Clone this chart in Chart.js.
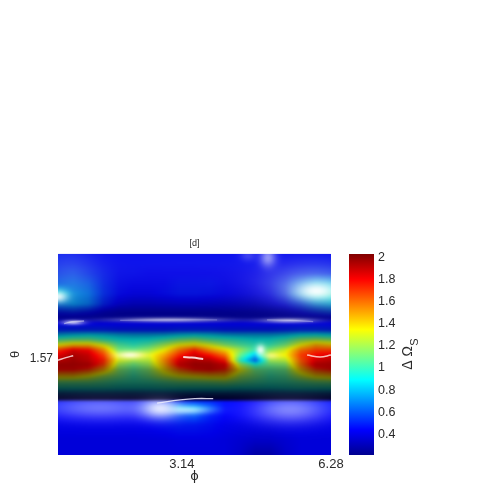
<!DOCTYPE html>
<html>
<head>
<meta charset="utf-8">
<style>
  html, body { margin: 0; background: #fff; }
  canvas { position: absolute; left: 0; top: 0; }
</style>
<script src="https://cdn.jsdelivr.net/npm/chart.js@4"></script>
</head>
<body>
<canvas id="surface" width="485" height="485"></canvas>
<canvas id="colorbar" width="485" height="485"></canvas>
<script>
const phiTicks = [3.14, 6.28];
const thetaTicks = [1.57];
const barTicks = [0.4, 0.6, 0.8, 1, 1.2, 1.4, 1.6, 1.8, 2];
const barRange = [0.21, 2.036];

const jetStops = [0, 0.125, 0.375, 0.625, 0.875, 1];
const jetColours = [[0, 0, 143], [0, 0, 255], [0, 255, 255], [255, 255, 0], [255, 0, 0], [128, 0, 0]];

const phiLevels = [0, 0.35, 0.7, 1.05, 1.4, 1.74, 2.09, 2.44, 2.79, 3.14, 3.49, 3.84, 4.19, 4.54, 4.88, 5.23, 5.58, 5.93, 6.28];
const thetaLevels = [0, 0.16, 0.31, 0.47, 0.62, 0.78, 0.91, 1.0, 1.09, 1.19, 1.27, 1.34, 1.42, 1.5, 1.58, 1.66, 1.73, 1.81, 1.91, 2.0, 2.09, 2.19, 2.27, 2.31, 2.41, 2.52, 2.67, 2.91, 3.14];
const rowShade = [0.93, 0.92, 0.9, 0.88, 0.85, 0.76, 0.62, 0.6, 0.85, 0.7, 0.62, 0.68, 0.78, 0.9, 0.96, 0.88, 0.75, 0.58, 0.48, 0.4, 0.3, 0.2, 0.16, 1, 1, 0.98, 0.92, 0.88, 0.88];
const heatValues = [
  [.48,.47,.46,.45,.45,.45,.45,.45,.45,.45,.45,.45,.45,.45,.45,.45,.45,.45,.45],
  [.5,.5,.48,.46,.45,.45,.45,.45,.45,.45,.45,.45,.45,.45,.45,.45,.46,.47,.47],
  [.54,.56,.52,.48,.45,.45,.44,.44,.44,.44,.44,.44,.44,.44,.45,.47,.5,.52,.52],
  [.62,.64,.6,.5,.45,.44,.44,.44,.46,.46,.46,.44,.44,.44,.46,.52,.66,.8,.8],
  [.9,.72,.66,.52,.45,.43,.43,.45,.47,.47,.46,.44,.43,.43,.45,.52,.72,.92,.95],
  [.68,.72,.66,.5,.42,.39,.39,.4,.41,.41,.4,.39,.39,.39,.42,.46,.55,.7,.78],
  [.48,.5,.46,.4,.37,.37,.37,.37,.37,.37,.37,.37,.37,.37,.38,.4,.44,.5,.56],
  [.38,.38,.38,.38,.38,.38,.38,.38,.38,.38,.38,.38,.38,.38,.38,.38,.38,.38,.38],
  [.44,.44,.44,.44,.44,.44,.44,.44,.44,.44,.44,.44,.44,.44,.44,.44,.44,.44,.44],
  [.5,.5,.5,.5,.48,.48,.48,.48,.5,.5,.5,.48,.48,.48,.48,.5,.52,.52,.5],
  [.8,.85,.88,.85,.8,.78,.78,.8,.85,.88,.85,.8,.78,.78,.78,.82,.9,.92,.88],
  [1.05,1.1,1.1,1,.92,.9,.92,1,1.1,1.15,1.05,1,.95,.9,.92,1,1.15,1.2,1.15],
  [1.35,1.45,1.45,1.3,1.05,.98,1.05,1.2,1.35,1.4,1.3,1.15,1.05,.98,1,1.12,1.35,1.5,1.45],
  [1.7,1.85,1.8,1.55,1.12,1.1,1.18,1.35,1.6,1.75,1.55,1.4,1.2,1,1.15,1.3,1.6,1.7,1.7],
  [1.85,1.95,1.9,1.7,1.3,1.35,1.32,1.5,1.75,1.88,1.78,1.6,1.1,.8,1.34,1.36,1.7,1.8,1.85],
  [1.9,1.95,1.9,1.75,1.3,1.22,1.25,1.55,1.85,1.92,1.9,1.75,.98,.62,1.2,1.25,1.65,1.85,1.9],
  [1.92,1.92,1.9,1.7,1.2,1.1,1.2,1.5,1.85,1.92,1.92,1.85,1.22,.95,1.1,1.15,1.6,1.88,1.9],
  [1.8,1.8,1.72,1.5,1.15,1.05,1.15,1.4,1.65,1.78,1.82,1.75,1.35,1.1,1.05,1.1,1.45,1.7,1.78],
  [1.45,1.45,1.35,1.2,1.1,1,1.1,1.25,1.35,1.4,1.45,1.45,1.2,1.1,1,1.05,1.25,1.4,1.45],
  [1.1,1.1,1.1,1.05,1,.98,1,1.05,1.1,1.1,1.12,1.15,1.08,1.02,.98,1,1.05,1.1,1.12],
  [.95,.95,.95,.95,.92,.92,.92,.95,.95,.95,.95,.95,.92,.92,.9,.92,.95,.95,.95],
  [.6,.6,.6,.6,.6,.6,.6,.6,.6,.6,.6,.6,.6,.6,.6,.6,.6,.6,.6],
  [.4,.4,.4,.4,.4,.4,.4,.4,.4,.4,.4,.4,.4,.4,.4,.4,.4,.4,.4],
  [.46,.46,.46,.46,.46,.46,.48,.5,.52,.54,.52,.46,.44,.44,.46,.46,.46,.46,.46],
  [.46,.46,.46,.46,.46,.46,.5,.55,.78,.78,.62,.46,.44,.44,.46,.46,.46,.46,.46],
  [.44,.44,.44,.44,.44,.44,.46,.5,.56,.6,.5,.44,.44,.44,.44,.44,.44,.44,.44],
  [.43,.43,.43,.43,.43,.43,.44,.46,.48,.48,.46,.43,.42,.42,.42,.43,.43,.43,.43],
  [.42,.42,.42,.42,.42,.42,.42,.42,.43,.43,.43,.42,.4,.38,.38,.4,.42,.42,.42],
  [.42,.42,.42,.42,.42,.42,.42,.42,.42,.42,.42,.42,.38,.3,.3,.38,.42,.42,.42],
];

// pale highlights on the surface, the last three are the thin upper streaks
const glowPhi = [0, 0.28, 5.95, 5.8, 4.83, 4.37, 2.35, 0.97, 5.34, 2.99, 1.66, 4.9, 4.66, 3.14, 2.55, 5.3, 0.35];
const glowTheta = [0.67, 0.28, 0.58, 0.48, 0.06, 0.03, 2.41, 2.4, 2.43, 2.44, 1.58, 1.59, 1.5, 0.2, 1.03, 1.04, 1.07];
const glowWidth = [0.22, 0.7, 0.5, 1.15, 0.18, 0.18, 0.45, 1.3, 0.9, 0.5, 0.32, 0.2, 0.1, 5, 1.2, 0.6, 0.25];
const glowHeight = [0.09, 0.4, 0.14, 0.34, 0.14, 0.08, 0.16, 0.19, 0.21, 0.06, 0.055, 0.05, 0.08, 0.4, 0.03, 0.03, 0.03];
const glowStrength = [0.9, 0.14, 0.95, 0.34, 0.55, 0.2, 0.85, 0.42, 0.5, 0.6, 0.85, 0.45, 0.9, 0.06, 0.85, 0.85, 0.9];

const streakLeft = [{ x: 0.14, y: 1.09 }, { x: 0.32, y: 1.06 }, { x: 0.6, y: 1.05 }];
const streakMiddle = [{ x: 1.43, y: 1.04 }, { x: 2.58, y: 1.03 }, { x: 3.66, y: 1.03 }];
const streakRight = [{ x: 4.81, y: 1.03 }, { x: 5.34, y: 1.04 }, { x: 5.87, y: 1.06 }];
const streakLower = [{ x: 2.28, y: 2.33 }, { x: 2.81, y: 2.28 }, { x: 3.15, y: 2.26 }, { x: 3.57, y: 2.26 }];
const streakHotLeft = [{ x: 0, y: 1.66 }, { x: 0.18, y: 1.62 }, { x: 0.35, y: 1.59 }];
const streakHotMiddle = [{ x: 2.88, y: 1.61 }, { x: 3.08, y: 1.62 }, { x: 3.34, y: 1.64 }];
const streakHotRight = [{ x: 5.73, y: 1.58 }, { x: 6.03, y: 1.61 }, { x: 6.28, y: 1.58 }];

const FONT = "'Liberation Sans', Arial, sans-serif";
const TEXT_COLOUR = "#2a2a2a";

function jetColour(value) {
  let t = (value - barRange[0]) / (barRange[1] - barRange[0]);
  t = Math.min(1, Math.max(0, t));
  let i = 0;
  while (i < jetStops.length - 2 && t > jetStops[i + 1]) i++;
  const f = (t - jetStops[i]) / (jetStops[i + 1] - jetStops[i]);
  return jetColours[i].map((c, k) => c + (jetColours[i + 1][k] - c) * f);
}

// position of v inside a sorted list, as index + fraction
function locate(levels, v) {
  let i = 0;
  while (i < levels.length - 2 && v > levels[i + 1]) i++;
  return [i, Math.min(1, Math.max(0, (v - levels[i]) / (levels[i + 1] - levels[i])))];
}

const surfacePlugin = {
  id: "surface",
  beforeDatasetsDraw(chart) {
    const { ctx, chartArea, scales } = chart;
    const w = Math.round(chartArea.right - chartArea.left);
    const h = Math.round(chartArea.bottom - chartArea.top);
    const off = document.createElement("canvas");
    off.width = w;
    off.height = h;
    const offCtx = off.getContext("2d");
    const img = offCtx.createImageData(w, h);
    for (let py = 0; py < h; py++) {
      const theta = scales.y.getValueForPixel(chartArea.top + py + 0.5);
      const [r, fr] = locate(thetaLevels, theta);
      const shade = rowShade[r] + (rowShade[r + 1] - rowShade[r]) * fr;
      for (let px = 0; px < w; px++) {
        const phi = scales.x.getValueForPixel(chartArea.left + px + 0.5);
        const [c, fc] = locate(phiLevels, phi);
        const top = heatValues[r][c] + (heatValues[r][c + 1] - heatValues[r][c]) * fc;
        const bottom = heatValues[r + 1][c] + (heatValues[r + 1][c + 1] - heatValues[r + 1][c]) * fc;
        const rgb = jetColour(top + (bottom - top) * fr);
        let keep = 1;
        glowPhi.forEach((g, i) => {
          const dx = (phi - g) / glowWidth[i];
          const dy = (theta - glowTheta[i]) / glowHeight[i];
          keep *= 1 - glowStrength[i] * Math.exp(-dx * dx - dy * dy);
        });
        const white = (1 - keep) * Math.min(1, shade + 0.2);
        const o = (py * w + px) * 4;
        for (let k = 0; k < 3; k++) {
          img.data[o + k] = rgb[k] * shade * (1 - white) + 255 * white;
        }
        img.data[o + 3] = 255;
      }
    }
    offCtx.putImageData(img, 0, 0);
    ctx.drawImage(off, chartArea.left, chartArea.top);
    ctx.save();
    ctx.beginPath();
    ctx.rect(chartArea.left, chartArea.top, w, h);
    ctx.clip();
    ctx.filter = "blur(1px)";
    ctx.drawImage(off, chartArea.left, chartArea.top);
    ctx.restore();
    // the streaks are soft too
    ctx.filter = "blur(0.7px)";
  },
  afterDatasetsDraw(chart) {
    chart.ctx.filter = "none";
  },
};

function streak(points, colour, width) {
  return {
    data: points,
    showLine: true,
    borderColor: colour,
    borderWidth: width,
    pointRadius: 0,
    tension: 0.4,
  };
}

new Chart(document.getElementById("surface"), {
  type: "scatter",
  data: {
    datasets: [
      streak(streakLeft, "rgba(255,255,255,0.4)", 1.5),
      streak(streakMiddle, "rgba(205,205,255,0.3)", 1.2),
      streak(streakRight, "rgba(225,225,255,0.35)", 1.2),
      streak(streakLower, "rgba(240,240,255,0.85)", 1.3),
      streak(streakHotLeft, "rgba(255,225,225,0.85)", 1.5),
      streak(streakHotMiddle, "rgba(255,235,235,0.9)", 2),
      streak(streakHotRight, "rgba(255,225,215,0.85)", 1.5),
    ],
  },
  options: {
    responsive: false,
    animation: false,
    events: [],
    layout: { padding: { top: 236, right: 154, left: 0, bottom: 0 } },
    plugins: {
      legend: { display: false },
      tooltip: { enabled: false },
      title: {
        display: true,
        fullSize: false,
        text: "[d]",
        color: TEXT_COLOUR,
        font: { family: FONT, size: 9, weight: "normal" },
        padding: { top: 2, bottom: 5 },
      },
    },
    scales: {
      x: {
        type: "linear",
        min: 0,
        max: 6.28,
        afterBuildTicks: (s) => { s.ticks = phiTicks.map((v) => ({ value: v })); },
        afterFit: (s) => { s.height = 30; },
        grid: { display: false, drawTicks: false },
        border: { display: false },
        ticks: {
          color: TEXT_COLOUR,
          font: { family: FONT, size: 13 },
          padding: 2,
          maxRotation: 0,
          autoSkip: false,
          // the 3.14 label sits left of its tick in the reference
          callback: (v) => (v === 3.14 ? "3.14\u00a0\u00a0\u00a0\u00a0\u00a0\u00a0\u00a0" : String(v)),
        },
        title: {
          display: true,
          text: "ϕ",
          color: TEXT_COLOUR,
          font: { family: "'DejaVu Sans'", size: 13 },
          padding: { top: 0, bottom: 1 },
        },
      },
      y: {
        type: "linear",
        reverse: true,
        min: 0,
        max: 3.14,
        afterBuildTicks: (s) => { s.ticks = thetaTicks.map((v) => ({ value: v })); },
        afterFit: (s) => { s.width = 58; },
        grid: { display: false, drawTicks: false },
        border: { display: false },
        ticks: {
          color: TEXT_COLOUR,
          font: { family: FONT, size: 12 },
          padding: 5,
          labelOffset: 4,
          autoSkip: false,
          callback: (v) => String(v),
        },
        title: {
          display: true,
          text: "θ",
          color: TEXT_COLOUR,
          font: { family: FONT, size: 13 },
          padding: { top: 8, bottom: 0 },
        },
      },
    },
  },
  plugins: [surfacePlugin],
});

const barTitlePlugin = {
  id: "barTitle",
  afterDraw(chart) {
    const { ctx } = chart;
    ctx.save();
    ctx.translate(412, 358);
    ctx.rotate(-Math.PI / 2);
    ctx.fillStyle = TEXT_COLOUR;
    ctx.font = "14px " + FONT;
    ctx.textAlign = "center";
    ctx.fillText("Δ Ω", 0, 0);
    ctx.font = "11px " + FONT;
    ctx.fillText("S", 16, 6);
    ctx.restore();
  },
};

function jetColourCss(c) {
  return "rgb(" + c.join(",") + ")";
}

function barGradient(context) {
  const { ctx, chartArea } = context.chart;
  if (!chartArea) return jetColourCss(jetColours[0]);
  const g = ctx.createLinearGradient(0, chartArea.bottom, 0, chartArea.top);
  jetStops.forEach((s, i) => g.addColorStop(s, jetColourCss(jetColours[i])));
  return g;
}

new Chart(document.getElementById("colorbar"), {
  type: "bar",
  data: {
    labels: ["ΔΩS"],
    datasets: [{
      data: [barRange],
      backgroundColor: barGradient,
      barPercentage: 1,
      categoryPercentage: 1,
    }],
  },
  options: {
    responsive: false,
    animation: false,
    events: [],
    layout: { padding: { top: 254, left: 349, right: 0, bottom: 30 } },
    plugins: { legend: { display: false }, tooltip: { enabled: false } },
    scales: {
      x: { display: false },
      y: {
        position: "right",
        min: barRange[0],
        max: barRange[1],
        afterBuildTicks: (s) => { s.ticks = barTicks.map((v) => ({ value: v })); },
        afterFit: (s) => { s.width = 111; },
        grid: { display: false, drawTicks: false },
        border: { display: false },
        ticks: {
          color: TEXT_COLOUR,
          font: { family: FONT, size: 12.5 },
          padding: 4,
          autoSkip: false,
          callback: (v) => String(v),
        },
      },
    },
  },
  plugins: [barTitlePlugin],
});
</script>
</body>
</html>
